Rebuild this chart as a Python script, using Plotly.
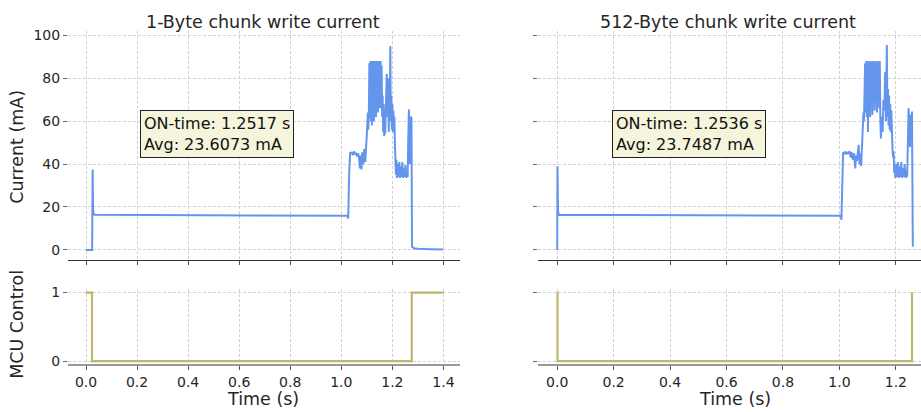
import plotly.graph_objects as go

# ---------------- data ----------------
t_left = [0.000, 0.024, 0.026, 0.028, 0.032, 0.2, 0.4, 0.6, 0.8, 1.0, 1.024, 1.027, 1.029, 1.031, 1.035,
          1.038, 1.042, 1.046, 1.050, 1.054, 1.058, 1.062, 1.066, 1.070, 1.073, 1.076, 1.079, 1.082, 1.086,
          1.090, 1.094, 1.098, 1.101, 1.104, 1.106, 1.108, 1.110, 1.112, 1.114, 1.116, 1.118, 1.120, 1.122,
          1.124, 1.126, 1.128, 1.130, 1.132, 1.134, 1.136, 1.138, 1.140, 1.142, 1.144, 1.146, 1.148, 1.150,
          1.152, 1.154, 1.156, 1.158, 1.160, 1.162, 1.164, 1.166, 1.168, 1.170, 1.172, 1.175, 1.178, 1.180,
          1.183, 1.186, 1.188, 1.190, 1.192, 1.194, 1.196, 1.198, 1.200, 1.202, 1.204, 1.206, 1.208, 1.210,
          1.212, 1.214, 1.216, 1.218, 1.221, 1.224, 1.227, 1.230, 1.233, 1.236, 1.239, 1.242, 1.245, 1.248,
          1.251, 1.254, 1.257, 1.260, 1.262, 1.265, 1.268, 1.272, 1.275, 1.277, 1.285, 1.300, 1.350, 1.398]
i_left = [0.0, 0.0, 37.5, 18.0, 16.4, 16.3, 16.2, 16.1, 16.0, 15.9, 15.9, 14.7, 28.0, 36.0, 45.5,
          44.8, 45.6, 44.2, 45.9, 44.5, 45.2, 43.5, 45.0, 42.5, 38.0, 44.0, 37.5, 45.5, 40.0,
          47.0, 41.0, 48.0, 56.0, 64.0, 56.0, 65.0, 87.0, 62.0, 88.0, 60.0, 87.5, 58.0, 88.0,
          65.0, 87.0, 60.0, 88.0, 70.0, 87.5, 62.0, 88.0, 68.0, 87.0, 64.0, 88.0, 72.0, 87.5,
          66.0, 88.0, 70.0, 86.0, 62.0, 72.0, 55.0, 68.0, 53.0, 60.0, 54.0, 75.0, 82.0, 62.0,
          80.0, 55.0, 78.0, 62.0, 95.0, 60.0, 72.0, 56.0, 68.0, 55.0, 65.0, 57.0, 62.0, 50.0,
          45.0, 35.0, 42.0, 33.5, 40.0, 34.0, 41.0, 33.5, 39.0, 34.0, 41.0, 33.5, 38.0, 34.0,
          39.5, 33.5, 36.0, 34.0, 50.0, 65.5, 40.0, 62.0, 61.5, 1.5, 0.8, 0.5, 0.3, 0.2]

t_right = [0.000, 0.001, 0.003, 0.006, 0.2, 0.4, 0.6, 0.8, 1.0, 1.005, 1.007, 1.009, 1.011, 1.013,
           1.016, 1.020, 1.024, 1.028, 1.032, 1.036, 1.040, 1.044, 1.048, 1.052, 1.056, 1.059, 1.062,
           1.065, 1.068, 1.071, 1.074, 1.077, 1.080, 1.083, 1.085, 1.087, 1.089, 1.091, 1.093, 1.095,
           1.097, 1.099, 1.101, 1.103, 1.105, 1.107, 1.109, 1.111, 1.113, 1.115, 1.117, 1.119, 1.121,
           1.123, 1.125, 1.127, 1.129, 1.131, 1.133, 1.135, 1.137, 1.139, 1.141, 1.143, 1.145, 1.147,
           1.150, 1.153, 1.156, 1.159, 1.162, 1.165, 1.168, 1.170, 1.172, 1.174, 1.176, 1.178, 1.180,
           1.182, 1.184, 1.186, 1.188, 1.190, 1.192, 1.194, 1.196, 1.198, 1.201, 1.204, 1.207, 1.210,
           1.213, 1.216, 1.219, 1.222, 1.225, 1.228, 1.231, 1.234, 1.237, 1.240, 1.242, 1.245, 1.248,
           1.250, 1.252, 1.254, 1.257, 1.259, 1.260]
i_right = [0.0, 39.0, 18.0, 16.4, 16.3, 16.2, 16.1, 16.0, 15.9, 15.9, 14.0, 30.0, 36.0, 45.5,
           45.0, 45.8, 44.5, 45.6, 44.8, 46.0, 43.0, 45.5, 42.0, 45.0, 38.0, 44.0, 41.5,
           47.0, 49.0, 40.0, 45.0, 39.0, 48.0, 58.0, 64.0, 60.0, 75.0, 87.0, 64.0, 88.0,
           62.0, 87.5, 55.0, 88.0, 66.0, 87.0, 62.0, 88.0, 70.0, 87.5, 63.0, 88.0, 68.0,
           87.0, 65.0, 88.0, 72.0, 87.5, 64.0, 88.0, 70.0, 87.0, 66.0, 88.0, 60.0, 52.0,
           62.0, 55.0, 70.0, 65.0, 83.0, 60.0, 95.5, 62.0, 75.0, 58.0, 72.0, 56.0, 68.0,
           55.0, 65.0, 50.0, 47.0, 43.0, 46.0, 36.0, 40.0, 33.5, 40.0, 34.0, 41.0, 33.5,
           39.0, 34.0, 41.0, 33.5, 38.0, 34.0, 40.0, 33.5, 37.0, 34.0, 50.0, 66.0, 55.0,
           48.0, 63.0, 50.0, 64.5, 30.0, 1.5]

mcu_t_left = [0.0, 0.0235, 1.276, 1.400]
mcu_left = [1, 0, 1, 1]
mcu_t_right = [0.0, 0.001, 1.257]
mcu_right = [1, 0, 1]

titles = ["1-Byte chunk write current", "512-Byte chunk write current"]
notes = ["ON-time: 1.2517 s<br>Avg: 23.6073 mA", "ON-time: 1.2536 s<br>Avg: 23.7487 mA"]
note_pos = [(0.211, 53.9), (0.193, 53.9)]
x_ticks_left = [0.0, 0.2, 0.4, 0.6, 0.8, 1.0, 1.2, 1.4]
x_ticks_right = [0.0, 0.2, 0.4, 0.6, 0.8, 1.0, 1.2]
cur_ticks = [0, 20, 40, 60, 80, 100]
mcu_ticks = [0, 1]

# ---------------- figure ----------------
W, H = 921, 412
BLUE = "#6495ED"
KHAKI = "#BDB76B"
FONT = "DejaVu Sans"
TXT = "#262626"

def px(x):
    return x / W

def py(y):
    return (H - y) / H

fig = go.Figure()
fig.add_trace(go.Scatter(x=t_left, y=i_left, mode="lines", line=dict(color=BLUE, width=2),
                         xaxis="x", yaxis="y", showlegend=False))
fig.add_trace(go.Scatter(x=mcu_t_left, y=mcu_left, mode="lines", line=dict(color=KHAKI, width=2.2, shape="hv"),
                         xaxis="x2", yaxis="y2", showlegend=False))
fig.add_trace(go.Scatter(x=t_right, y=i_right, mode="lines", line=dict(color=BLUE, width=2),
                         xaxis="x3", yaxis="y3", showlegend=False))
fig.add_trace(go.Scatter(x=mcu_t_right, y=mcu_right, mode="lines", line=dict(color=KHAKI, width=2.2, shape="hv"),
                         xaxis="x4", yaxis="y4", showlegend=False))

grid = dict(showgrid=True, gridcolor="#d2d2d2", griddash="3px,2px", gridwidth=1, zeroline=False)
tickfont = dict(family=FONT, size=14, color=TXT)

dom_l = [px(68), px(460)]
dom_r = [px(538), 1.0]
dom_top = [py(261), py(27)]
dom_bot = [py(367.5), py(290.5)]

xr_l = [-0.0705, 1.465]
xr_r = [-0.068, 1.289]

layout = dict(
    width=W, height=H, margin=dict(l=0, r=0, t=0, b=0),
    paper_bgcolor="white", plot_bgcolor="white",
    font=dict(family=FONT, color=TXT),
    xaxis=dict(domain=dom_l, anchor="y", range=xr_l, tickvals=x_ticks_left, showticklabels=False,
               ticks="outside", ticklen=4, tickcolor="#555", showline=True, linecolor="#333", linewidth=1.3, **grid),
    yaxis=dict(domain=dom_top, anchor="x", range=[-4.85, 101.85], tickvals=cur_ticks,
               ticks="outside", ticklen=4, tickcolor="#666", showline=False, tickfont=tickfont, **grid),
    xaxis2=dict(domain=dom_l, anchor="y2", range=xr_l, tickvals=x_ticks_left, ticktext=[f"{v:.1f}" for v in x_ticks_left],
                ticks="outside", ticklen=4, tickcolor="#555", showline=True, linecolor="#999", linewidth=2,
                tickfont=tickfont, **grid),
    yaxis2=dict(domain=dom_bot, anchor="x2", range=[-0.05, 1.05], tickvals=mcu_ticks,
                ticks="outside", ticklen=4, tickcolor="#666", showline=False, tickfont=tickfont, **grid),
    xaxis3=dict(domain=dom_r, anchor="y3", range=xr_r, tickvals=x_ticks_right, showticklabels=False,
                ticks="outside", ticklen=4, tickcolor="#555", showline=True, linecolor="#333", linewidth=1.3, **grid),
    yaxis3=dict(domain=dom_top, anchor="x3", range=[-4.85, 101.85], tickvals=cur_ticks, showticklabels=False,
                ticks="outside", ticklen=4, tickcolor="#666", showline=False, **grid),
    xaxis4=dict(domain=dom_r, anchor="y4", range=xr_r, tickvals=x_ticks_right, ticktext=[f"{v:.1f}" for v in x_ticks_right],
                ticks="outside", ticklen=4, tickcolor="#555", showline=True, linecolor="#999", linewidth=2,
                tickfont=tickfont, **grid),
    yaxis4=dict(domain=dom_bot, anchor="x4", range=[-0.05, 1.05], tickvals=mcu_ticks, showticklabels=False,
                ticks="outside", ticklen=4, tickcolor="#666", showline=False, **grid),
)
fig.update_layout(**layout)

LBL = 17.5
ann = []
title_x = [px(263), px(728)]
time_x = [px(263), px(735)]
for k in range(2):
    ann.append(dict(text=titles[k], x=title_x[k], y=py(17), xref="paper", yref="paper",
                    showarrow=False, font=dict(family=FONT, size=LBL, color=TXT),
                    xanchor="center", yanchor="middle"))
    ann.append(dict(text="Time (s)", x=time_x[k], y=py(403), xref="paper", yref="paper",
                    showarrow=False, font=dict(family=FONT, size=LBL, color=TXT),
                    xanchor="center", yanchor="middle"))
ann.append(dict(text=notes[0], x=note_pos[0][0], y=note_pos[0][1], xref="x", yref="y", showarrow=False,
                align="left", xanchor="left", yanchor="middle", bgcolor="#f5f5dc", bordercolor="#222",
                borderwidth=1, borderpad=3, font=dict(family=FONT, size=16, color="#111")))
ann.append(dict(text=notes[1], x=note_pos[1][0], y=note_pos[1][1], xref="x3", yref="y3", showarrow=False,
                align="left", xanchor="left", yanchor="middle", bgcolor="#f5f5dc", bordercolor="#222",
                borderwidth=1, borderpad=3, font=dict(family=FONT, size=16, color="#111")))
ann.append(dict(text="Current (mA)", x=px(17), y=py(145), xref="paper", yref="paper", showarrow=False,
                textangle=-90, font=dict(family=FONT, size=LBL, color=TXT), xanchor="center", yanchor="middle"))
ann.append(dict(text="MCU Control", x=px(17), y=py(327), xref="paper", yref="paper", showarrow=False,
                textangle=-90, font=dict(family=FONT, size=LBL, color=TXT), xanchor="center", yanchor="middle"))
fig.update_layout(annotations=ann)

fig.write_html("out.html")
